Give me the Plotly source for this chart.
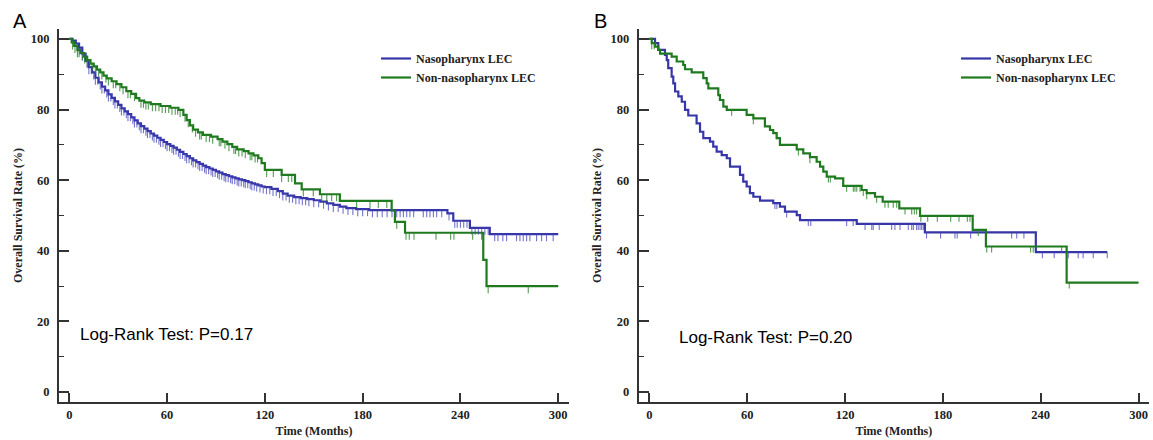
import numpy as np
import plotly.graph_objects as go

# ---------------- Panel A data ----------------
a_naso_t = [0, 2, 4, 6, 8, 10, 12, 14, 16, 18, 20, 22, 24, 26, 28, 30, 32, 34, 36, 38, 40,
            42, 44, 46, 48, 50, 52, 54, 56, 58, 60, 62, 64, 66, 68, 70, 72, 74, 76, 78, 80,
            82, 84, 86, 88, 90, 92, 94, 96, 98, 100, 102, 104, 106, 108, 110, 112, 114, 116,
            118, 120, 124, 128, 131, 134, 138, 142, 146, 150, 154, 158, 162, 166, 170, 176,
            184, 232, 235.6, 245.8, 258]
a_naso_s = [100, 99.5, 98.7, 97.5, 95.8, 93.8, 92.0, 90.5, 89.0, 87.7, 86.5, 85.4, 84.3, 83.3,
            82.3, 81.3, 80.3, 79.5, 78.7, 77.8, 76.9, 76.1, 75.3, 74.6, 73.9, 73.2, 72.6, 72.0,
            71.4, 70.8, 70.2, 69.7, 69.2, 68.6, 68.0, 67.4, 66.8, 66.2, 65.6, 65.1, 64.6, 64.1,
            63.7, 63.3, 62.9, 62.5, 62.1, 61.7, 61.4, 61.1, 60.8, 60.5, 60.2, 60.0, 59.7, 59.4,
            59.1, 58.8, 58.5, 58.2, 58.0, 57.5, 56.9, 56.2, 55.6, 55.2, 54.9, 54.6, 54.3, 53.9,
            53.4, 53.0, 52.5, 52.1, 51.8, 51.5, 50.6, 48.5, 46.5, 44.7]
a_naso_end = 300
a_naso_cens = [5, 6.5, 8, 9.5, 11, 12, 13.5, 15, 16, 17.5, 19, 20, 21.5, 23, 24, 25.5, 27, 28,
               29.5, 31, 32, 33.5, 35, 36, 37.5, 39, 40, 41.5, 43, 44, 45.5, 47, 48, 49.5, 51,
               52, 53.5, 55, 56, 57.5, 59, 60, 61.5, 63, 64, 65.5, 67, 68, 69.5, 71, 72, 73.5,
               75, 76, 77.5, 79, 80, 81.5, 83, 84, 85.5, 87, 88, 89.5, 91, 92, 93.5, 95, 96,
               97.5, 99, 100, 101.5, 103, 104, 105.5, 107, 108, 109.5, 111, 112, 113.5, 115,
               117, 119, 121, 123, 125, 127, 129, 131, 133, 135, 137, 139, 141, 143, 145, 147,
               150, 153, 156, 159, 162, 165, 168, 171, 174, 177, 180, 183, 186, 189, 192, 195,
               198, 200.9, 203, 205, 207, 209, 211.3, 217.2, 219.3, 221.3, 223.4, 225.4, 228.5,
               233, 236.5, 238, 240, 242, 244, 247, 249, 251, 253, 255, 257, 261, 263, 266,
               268.3, 274.4, 276.5, 278.5, 280.6, 282.6, 286.7, 289.8, 292.8, 296.9]

a_non_t = [0, 1.5, 3, 5, 7, 9, 11, 13, 15, 17, 19, 21, 23, 26, 29, 32, 35, 38, 41, 43, 46, 50,
           56, 62, 67, 70, 72, 74, 76, 79, 82, 87, 91, 94, 97, 100, 103, 107, 110, 113, 116,
           118, 120, 130.3, 138.5, 142.6, 153.8, 166, 197.8, 199.8, 206, 254, 256]
a_non_s = [100, 99.0, 98.0, 96.8, 96.0, 95.0, 94.0, 93.0, 92.2, 91.3, 90.5, 89.6, 88.8, 88.0,
           87.2, 86.3, 85.2, 84.4, 83.2, 82.5, 82.0, 81.5, 81.0, 80.5, 79.9, 78.5, 77.0, 75.5,
           74.3, 73.5, 72.8, 72.3, 71.6, 70.9, 70.2, 69.4, 68.7, 68.2, 67.6, 67.0, 66.2, 64.8,
           62.9, 61.5, 59.1, 57.4, 56.0, 54.1, 51.4, 48.2, 45.1, 37.4, 30.0]
a_non_end = 300
a_non_cens = [2, 3.5, 5, 6, 8, 9.5, 11, 12.5, 14, 16, 18, 20, 22.5, 24, 27, 28.5, 31, 33, 36,
              37.5, 40, 44, 45.5, 47, 48.5, 51, 53, 55, 57, 59, 61, 63, 65, 66.5, 68, 71, 73,
              75.5, 77.5, 80, 81, 84, 86, 88, 92, 93, 95.5, 98, 101, 102, 104, 106, 108, 111,
              112, 114, 115.5, 121.1, 125.2, 130.3, 134.4, 136.5, 143.6, 149.7, 154.9, 158,
              161, 164, 176.3, 184.5, 189.6, 194.8, 200.9, 206.6, 208.6, 211.5, 225, 234, 236,
              247.5, 253, 257, 281.6]

# ---------------- Panel B data ----------------
b_naso_t = [0, 3.5, 5.5, 9.6, 10.7, 11.6, 13.7, 14.7, 15.8, 17.8, 19.9, 21.9, 23.9, 29, 31.1,
            33.1, 37.2, 39.2, 41.3, 44.4, 47.5, 49.5, 55.6, 57.6, 59.7, 61.7, 63.8, 67.9, 76,
            80.1, 83.2, 90.4, 92.4, 127.2, 169, 237]
b_naso_s = [100, 98.8, 96.9, 95.5, 94.0, 91.7, 89.3, 87.4, 85.1, 83.7, 82.2, 79.9, 78.3, 76.1,
            73.7, 71.9, 70.9, 69.5, 68.1, 67.1, 66.2, 63.8, 61.5, 59.6, 58.2, 56.3, 55.3, 54.2,
            53.5, 52.5, 51.1, 50.1, 48.7, 47.6, 45.2, 39.6]
b_naso_end = 280.8
b_naso_cens = [77, 78.2, 84.2, 97.5, 99, 121, 125, 132.3, 136.4, 137.3, 141, 148.6, 150.6,
               153.7, 158.8, 160.9, 161.9, 163.9, 164.9, 166, 167, 168, 170, 178.6, 187.4,
               188.8, 197, 222.2, 225.3, 229.7, 241, 248.3, 256.9, 263, 266, 272.2, 280.8]

b_non_t = [0, 1.5, 3.5, 5.5, 6.6, 13.7, 16.8, 20.8, 21.9, 26, 33.1, 35.2, 36.2, 42.3, 43.3,
           45.4, 47.5, 59.7, 63.8, 70.9, 74, 76, 78.1, 80.1, 90.4, 94.4, 98.5, 102.6, 104.7,
           106.7, 108.8, 113.9, 118.9, 130.2, 133.3, 138.4, 143.1, 153.3, 166, 198.3, 206.4,
           255.9]
b_non_s = [100, 98.8, 97.8, 96.9, 95.8, 95.0, 93.6, 92.6, 91.4, 90.5, 88.9, 87.4, 86.0, 84.1,
           82.7, 80.8, 79.9, 78.5, 77.5, 75.2, 74.2, 73.3, 71.9, 70.0, 68.7, 67.6, 66.5, 65.2,
           63.8, 62.4, 61.0, 60.5, 58.4, 57.2, 56.3, 55.3, 53.9, 52.0, 49.9, 45.9, 41.2, 31.0]
b_non_end = 300
b_non_cens = [1.5, 3, 50.5, 63.8, 78, 91.4, 98.5, 109.8, 111, 121, 125.1, 126.1, 127.2, 129.2,
              131.2, 133.3, 139.4, 144.5, 146.5, 149.6, 151.7, 156.8, 160.9, 162.5, 163.9,
              166.5, 170.7, 176.6, 184.8, 189.9, 195, 196.6, 201.7, 206.9, 209.9, 233.8,
              235.4, 252.8, 257.5]

x_ticks = [0, 60, 120, 180, 240, 300]
y_ticks = [0, 20, 40, 60, 80, 100]
y_minor = [10, 30, 50, 70, 90]
series_names = ["Nasopharynx LEC", "Non-nasopharynx LEC"]
p_texts = ["Log-Rank Test: P=0.17", "Log-Rank Test: P=0.20"]
panel_labels = ["A", "B"]

BLUE = "#3636a8"
GREEN = "#1f7a1f"
BLUE_TICK = "rgba(70,70,185,0.75)"
GREEN_TICK = "rgba(40,130,40,0.8)"
AXIS = "#333333"
SERIF = "Liberation Serif, Times New Roman, serif"
SANS = "Liberation Sans, Arial, sans-serif"


def surv_at(times, surv, tc):
    idx = np.searchsorted(np.array(times), np.array(tc), side="right") - 1
    return list(np.array(surv)[idx])


fig = go.Figure()

panels = [
    (a_naso_t, a_naso_s, a_naso_end, a_naso_cens, a_non_t, a_non_s, a_non_end, a_non_cens,
     "x", "y", "legend", 2.0),
    (b_naso_t, b_naso_s, b_naso_end, b_naso_cens, b_non_t, b_non_s, b_non_end, b_non_cens,
     "x2", "y2", "legend2", 1.7),
]

for (nt, ns, ne, nc, gt, gs, ge, gc, xa, ya, lg, tl) in panels:
    for (t, s, e, c, col, tcol, name) in [(nt, ns, ne, nc, BLUE, BLUE_TICK, series_names[0]),
                                          (gt, gs, ge, gc, GREEN, GREEN_TICK, series_names[1])]:
        fig.add_trace(go.Scatter(
            x=list(t) + [e], y=list(s) + [s[-1]], mode="lines", line_shape="hv",
            line=dict(color=col, width=2.2), name=name, xaxis=xa, yaxis=ya, legend=lg,
            hoverinfo="skip"))
    for (t, s, c, tcol) in [(nt, ns, nc, BLUE_TICK), (gt, gs, gc, GREEN_TICK)]:
        fig.add_trace(go.Scatter(
            x=c, y=surv_at(t, s, c), mode="markers",
            marker=dict(size=1, color="rgba(0,0,0,0)"),
            error_y=dict(type="data", symmetric=False, array=[0] * len(c),
                         arrayminus=[tl] * len(c), width=0, thickness=1.1, color=tcol),
            showlegend=False, xaxis=xa, yaxis=ya, hoverinfo="skip"))

W, H = 1153, 440
xdoms = [[59 / W, 569 / W], [638.7 / W, 1149 / W]]
ydom = [1 - 402 / H, 1 - 29 / H]
xranges = [[-6.3, 306.6], [-6.5, 306.4]]
yrange = [-2.83, 102.8]

axis_common = dict(showline=True, linecolor=AXIS, linewidth=2, ticks="inside",
                   tickcolor=AXIS, tickwidth=1.5, showgrid=False, zeroline=False,
                   tickfont=dict(family=SERIF, size=12.5, color="#222", weight="bold"))

layout = dict(
    width=W, height=H, margin=dict(l=0, r=0, t=0, b=0),
    paper_bgcolor="white", plot_bgcolor="white",
)
for i, (xn, yn) in enumerate([("xaxis", "yaxis"), ("xaxis2", "yaxis2")]):
    layout[xn] = dict(axis_common, domain=xdoms[i], range=xranges[i], tickvals=x_ticks,
                      ticklen=9, anchor="y" if i == 0 else "y2",
                      title=dict(text="Time (Months)", standoff=6,
                                 font=dict(family=SERIF, size=12, color="#222", weight="bold")))
    layout[yn] = dict(axis_common, domain=ydom, range=yrange, tickvals=y_ticks, ticklen=10,
                      anchor="x" if i == 0 else "x2", ticklabelstandoff=5,
                      minor=dict(tickvals=y_minor, ticks="inside", ticklen=5, tickwidth=1.2,
                                 tickcolor=AXIS),
                      title=dict(text="Overall Survival Rate (%)", standoff=6,
                                 font=dict(family=SERIF, size=12, color="#222", weight="bold")))

legend_font = dict(family=SERIF, size=12, color="#222", weight="bold")
layout["legend"] = dict(x=376 / W, y=1 - 44 / H, xanchor="left", yanchor="top",
                        font=legend_font, bgcolor="rgba(0,0,0,0)", itemwidth=30,
                        tracegroupgap=0)
layout["legend2"] = dict(x=956 / W, y=1 - 44 / H, xanchor="left", yanchor="top",
                         font=legend_font, bgcolor="rgba(0,0,0,0)", itemwidth=30,
                         tracegroupgap=0)

annotations = [
    dict(text=panel_labels[0], x=20 / W, y=1 - 21 / H, xref="paper", yref="paper",
         xanchor="center", yanchor="middle", showarrow=False,
         font=dict(family=SANS, size=20, color="black")),
    dict(text=panel_labels[1], x=600 / W, y=1 - 21 / H, xref="paper", yref="paper",
         xanchor="center", yanchor="middle", showarrow=False,
         font=dict(family=SANS, size=20, color="black")),
    dict(text=p_texts[0], x=78 / W, y=1 - 334.5 / H, xref="paper", yref="paper",
         xanchor="left", yanchor="middle", showarrow=False,
         font=dict(family=SANS, size=17, color="black")),
    dict(text=p_texts[1], x=677 / W, y=1 - 337.5 / H, xref="paper", yref="paper",
         xanchor="left", yanchor="middle", showarrow=False,
         font=dict(family=SANS, size=17, color="black")),
]
layout["annotations"] = annotations

fig.update_layout(**layout)
fig.write_html("out.html")
